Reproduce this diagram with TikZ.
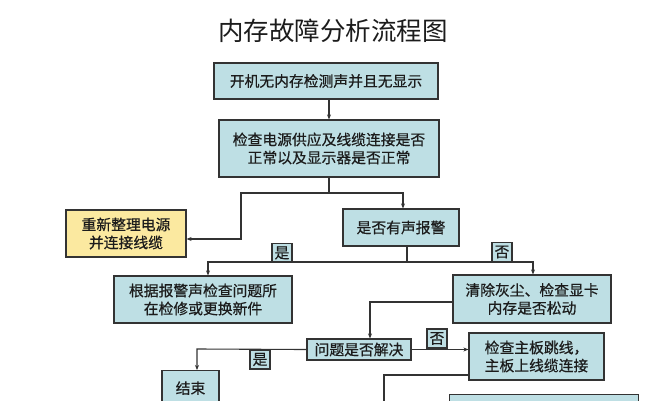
\documentclass[tikz,border=0pt]{standalone}
\usepackage{fontspec}
\newfontfamily\cjk{Noto Sans CJK SC}
\newfontfamily\cjkb[FakeBold=0.6]{Noto Sans CJK SC}
\usetikzlibrary{arrows.meta,calc}
\definecolor{boxblue}{HTML}{BEDFE4}
\definecolor{boxyellow}{HTML}{FBE9A0}
\definecolor{edge}{HTML}{333333}
\definecolor{ink}{HTML}{1C1C1C}
\tikzset{
  x=1pt,y=-1pt,
  box/.style={draw=edge,line width=1.2pt,fill=boxblue,rectangle,inner sep=0pt,align=center,
    text=ink,font=\cjkb\fontsize{14.8}{18}\selectfont},
  ybox/.style={box,fill=boxyellow},
  lab/.style={box,minimum width=20,minimum height=19},
  conn/.style={draw=edge,line width=1.1pt},
  arr/.style={conn,-{Stealth[length=5pt,width=4pt]}},
}
\begin{document}
\begin{tikzpicture}
\useasboundingbox (0,0) rectangle (667,400);
\clip (0,0) rectangle (667,400);
\fill[white] (0,0) rectangle (667,400);
% title
\node[text=ink,font=\cjk\fontsize{25.5}{30}\selectfont] (title) at (333,31) {内存故障分析流程图};
% boxes
\node[box,minimum width=224,minimum height=36] (b1) at (326,81) {开机无内存检测声并且无显示};
\node[box,minimum width=220,minimum height=57] (b2) at (329,148.5) {检查电源供应及线缆连接是否\\正常以及显示器是否正常};
\node[ybox,minimum width=120,minimum height=47] (y1) at (126,233.5) {重新整理电源\\并连接线缆};
\node[box,minimum width=116,minimum height=37] (b3) at (401,227.5) {是否有声报警};
\node[box,minimum width=178,minimum height=47] (b4) at (203,299.5) {根据报警声检查问题所\\在检修或更换新件};
\node[box,minimum width=158,minimum height=48] (b5) at (532,299) {清除灰尘、检查显卡\\内存是否松动};
\node[box,minimum width=104,minimum height=21] (b6) at (359,349.5) {问题是否解决};
\node[box,minimum width=57,minimum height=35,anchor=north] (b7) at (190.5,370) {结束};
\node[box,minimum width=135,minimum height=47] (b8) at (536.5,356.5) {检查主板跳线，\\主板上线缆连接};
\node[box,minimum width=189,minimum height=40,anchor=north west] (b9) at (449,394) {};
% labels
\node[lab] (l1) at (282,253) {是};
\node[lab] (l2) at (502,252) {否};
\node[lab] (l3) at (260,359.5) {是};
\node[lab] (l4) at (437,338.5) {否};
% junction coordinates
\coordinate (j1) at (329,193);
\coordinate (j1l) at (241,193);
\coordinate (j1d) at (241,239);
\coordinate (j1r) at (403,193);
\coordinate (j2) at (407,262);
\coordinate (j2l) at (208,262);
\coordinate (j2r) at (533,262);
\coordinate (k1) at (370,302);
\coordinate (k2) at (197,349);
\coordinate (k3) at (384,375);
\coordinate (k3d) at (384,405);
% connectors
\draw[arr] (b2.north |- b1.south) -- (b2.north);
\draw[conn] (b2.south) -- (j1);
\draw[arr] (j1) -- (j1l) -- (j1d) -- (j1d -| y1.east);
\draw[arr] (j1) -- (j1r) -- (j1r |- b3.north);
\draw[conn] (j2 |- b3.south) -- (j2);
\draw[arr] (j2) -- (j2l) -- (j2l |- b4.north);
\draw[arr] (j2) -- (j2r) -- (j2r |- b5.north);
\draw[arr] (k1 -| b5.west) -- (k1) -- (k1 |- b6.north);
\draw[arr] (b6.west) -- (k2) -- (k2 |- b7.north);
\draw[arr] (b6.east) -- (b6.east -| b8.west);
\draw[conn] (k3 -| b8.west) -- (k3) -- (k3d);
\end{tikzpicture}
\end{document}
